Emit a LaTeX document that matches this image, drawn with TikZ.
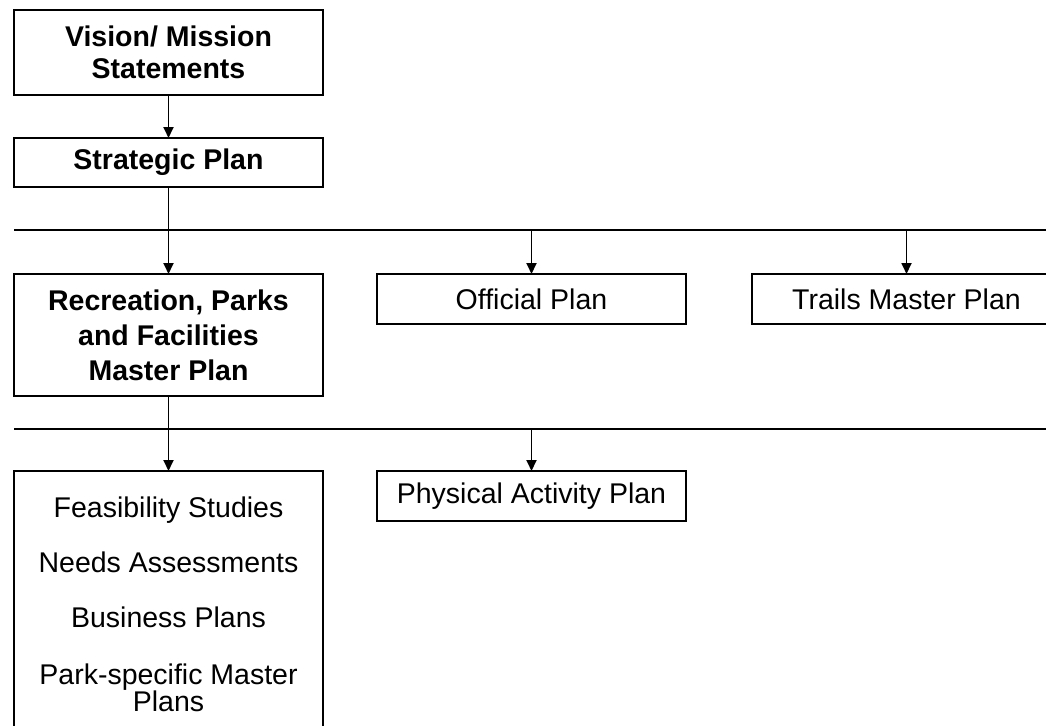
\documentclass[tikz,border=0pt]{standalone}
\usepackage{fontspec}
\setmainfont{Liberation Sans}
\usetikzlibrary{arrows.meta,positioning}
\tikzset{
        block/.style = {draw, rectangle, line width=1.8pt,
            inner sep=0pt, outer sep=0pt,
            minimum width=309pt, align=center,
            font=\bfseries\fontsize{28.5}{32}\selectfont},
        plan/.style = {block, minimum height=50pt,
            font=\fontsize{28.5}{32}\selectfont},
        entry/.style = {anchor=base, font=\fontsize{28.5}{27}\selectfont, align=center},
        arrow/.style = {draw, line width=1.8pt, -{Triangle[length=11pt,width=10pt]}},
        bus/.style = {draw, line width=1.8pt},
    }

\begin{document}
\begin{tikzpicture}[x=1pt,y=-1pt]
    \useasboundingbox (0,0) rectangle (1046,725);
    \clip (0,0) rectangle (1046,725);

    % main chain on the left
    \node[block, minimum height=85pt, anchor=north] (vision) at (168.5,10) {Vision/ Mission\\Statements};
    \node[block, minimum height=49pt, below=43pt of vision] (strategic) {Strategic Plan};
    \node[block, minimum height=122pt, below=87pt of strategic,
          font=\bfseries\fontsize{28.5}{35}\selectfont] (recmaster) {Recreation, Parks\\and Facilities\\Master Plan};

    % first level of plans
    \node[plan, anchor=north] (official) at (531.5,274) {Official Plan};
    \node[plan, anchor=north] (trails) at (906.5,274) {Trails Master Plan};

    % second level
    \node[plan, minimum height=300pt, below=75pt of recmaster] (studies) {};
    \node[entry] (feasibility) at (168.5,517) {Feasibility Studies};
    \node[entry] (needs) at (168.5,572) {Needs Assessments};
    \node[entry] (business) at (168.5,627) {Business Plans};
    \node[entry] (parkplans) at (168.5,711) {Park-specific Master\\Plans};
    \node[plan, anchor=north] (physical) at (531.5,471) {Physical Activity Plan};

    % distribution lines
    \coordinate (topbus) at (14,230);
    \coordinate (topbusend) at (1050,230);
    \coordinate (lowbus) at (14,429);
    \coordinate (lowbusend) at (1050,429);
    \draw[bus] (topbus) -- (topbusend);
    \draw[bus] (lowbus) -- (lowbusend);

    \draw[arrow] (vision) -- (strategic);
    \draw[arrow] (strategic) -- (recmaster);
    \draw[arrow] (official |- topbus) -- (official);
    \draw[arrow] (trails |- topbus) -- (trails);
    \draw[arrow] (recmaster) -- (studies);
    \draw[arrow] (physical |- lowbus) -- (physical);
\end{tikzpicture}
\end{document}
